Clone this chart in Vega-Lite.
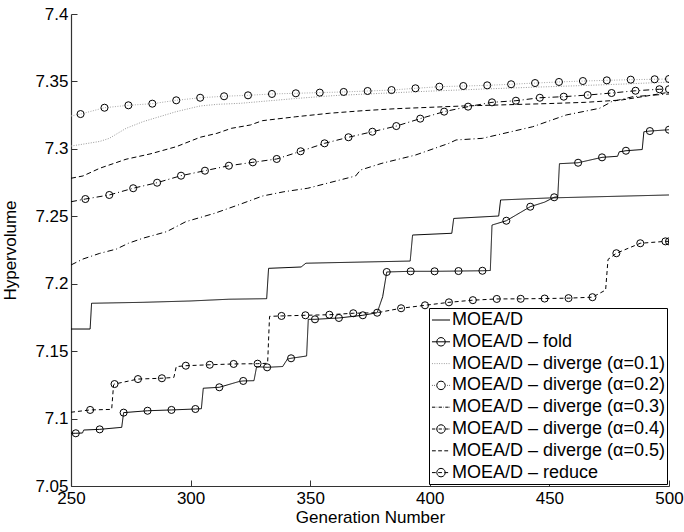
{
"$schema": "https://vega.github.io/schema/vega-lite/v6.json",
"width": 598, "height": 472,
"autosize": {"type": "none"},
"padding": {"left": 71, "top": 14, "right": 15, "bottom": 46},
"background": "white",
"config": {
  "view": {"stroke": null},
  "font": "Liberation Sans",
  "axis": {"labelFont": "Liberation Sans", "titleFont": "Liberation Sans", "labelFontSize": 17, "titleFontSize": 17, "titleFontWeight": "normal", "labelColor": "black", "titleColor": "black", "grid": false, "domainColor": "#333", "tickColor": "#333", "tickSize": -6, "domainWidth": 1.2, "tickWidth": 1, "labelOverlap": false, "labelFlush": false},
  "legend": {"orient": "bottom-right", "offset": 2, "strokeColor": "black", "fillColor": "white", "padding": 2, "symbolSize": 361, "symbolStrokeWidth": 1, "symbolOpacity": 1, "symbolFillColor": "transparent", "labelFont": "Liberation Sans", "labelFontSize": 18, "labelColor": "black", "labelOffset": 1, "rowPadding": 2.8, "labelLimit": 400}
},
"data": {"values": [
{"s":"MOEA/D","g":250,"v":7.1664},{"s":"MOEA/D","g":258,"v":7.1664},{"s":"MOEA/D","g":258.6,"v":7.1855},{"s":"MOEA/D","g":280,"v":7.1862},{"s":"MOEA/D","g":300,"v":7.1872},{"s":"MOEA/D","g":316,"v":7.1885},{"s":"MOEA/D","g":331.8,"v":7.1889},{"s":"MOEA/D","g":332.6,"v":7.2114},{"s":"MOEA/D","g":346.2,"v":7.2124},{"s":"MOEA/D","g":348.2,"v":7.2152},{"s":"MOEA/D","g":391.8,"v":7.2168},{"s":"MOEA/D","g":392.8,"v":7.2361},{"s":"MOEA/D","g":409.2,"v":7.2374},{"s":"MOEA/D","g":410,"v":7.2484},{"s":"MOEA/D","g":428.8,"v":7.2502},{"s":"MOEA/D","g":429.6,"v":7.2621},{"s":"MOEA/D","g":450,"v":7.2636},{"s":"MOEA/D","g":500,"v":7.2658},

{"s":"MOEA/D – fold","g":250,"v":7.0891},{"s":"MOEA/D – fold","g":252,"v":7.0891,"m":1},{"s":"MOEA/D – fold","g":254.8,"v":7.0893},{"s":"MOEA/D – fold","g":255.3,"v":7.0915},{"s":"MOEA/D – fold","g":262,"v":7.092,"m":1},{"s":"MOEA/D – fold","g":271.2,"v":7.0935},{"s":"MOEA/D – fold","g":272,"v":7.1044,"m":1},{"s":"MOEA/D – fold","g":282,"v":7.1058,"m":1},{"s":"MOEA/D – fold","g":292,"v":7.1064,"m":1},{"s":"MOEA/D – fold","g":302,"v":7.1071,"m":1},{"s":"MOEA/D – fold","g":304.5,"v":7.1073},{"s":"MOEA/D – fold","g":305.3,"v":7.1225},{"s":"MOEA/D – fold","g":312,"v":7.1232,"m":1},{"s":"MOEA/D – fold","g":320.5,"v":7.1276},{"s":"MOEA/D – fold","g":322,"v":7.1279,"m":1},{"s":"MOEA/D – fold","g":326.5,"v":7.1281},{"s":"MOEA/D – fold","g":327.6,"v":7.1385},{"s":"MOEA/D – fold","g":332,"v":7.138,"m":1},{"s":"MOEA/D – fold","g":338.5,"v":7.1386},{"s":"MOEA/D – fold","g":340.5,"v":7.1442},{"s":"MOEA/D – fold","g":342,"v":7.1447,"m":1},{"s":"MOEA/D – fold","g":348.5,"v":7.1464},{"s":"MOEA/D – fold","g":349.2,"v":7.1736},{"s":"MOEA/D – fold","g":352,"v":7.1736,"m":1},{"s":"MOEA/D – fold","g":362,"v":7.1746,"m":1},{"s":"MOEA/D – fold","g":372,"v":7.1766,"m":1},{"s":"MOEA/D – fold","g":378,"v":7.1785},{"s":"MOEA/D – fold","g":380.3,"v":7.1904},{"s":"MOEA/D – fold","g":382,"v":7.2087,"m":1},{"s":"MOEA/D – fold","g":392,"v":7.2092,"m":1},{"s":"MOEA/D – fold","g":402,"v":7.2092,"m":1},{"s":"MOEA/D – fold","g":412,"v":7.2094,"m":1},{"s":"MOEA/D – fold","g":422,"v":7.2096,"m":1},{"s":"MOEA/D – fold","g":425.3,"v":7.2098},{"s":"MOEA/D – fold","g":426,"v":7.2435},{"s":"MOEA/D – fold","g":432,"v":7.2467,"m":1},{"s":"MOEA/D – fold","g":442,"v":7.2571,"m":1},{"s":"MOEA/D – fold","g":448,"v":7.2605},{"s":"MOEA/D – fold","g":452,"v":7.2641,"m":1},{"s":"MOEA/D – fold","g":453.5,"v":7.2645},{"s":"MOEA/D – fold","g":454.2,"v":7.289},{"s":"MOEA/D – fold","g":462,"v":7.2897,"m":1},{"s":"MOEA/D – fold","g":472,"v":7.2937,"m":1},{"s":"MOEA/D – fold","g":478.5,"v":7.2945},{"s":"MOEA/D – fold","g":479.2,"v":7.2978},{"s":"MOEA/D – fold","g":482,"v":7.2986,"m":1},{"s":"MOEA/D – fold","g":488.8,"v":7.2995},{"s":"MOEA/D – fold","g":489.5,"v":7.3127},{"s":"MOEA/D – fold","g":492,"v":7.3132,"m":1},{"s":"MOEA/D – fold","g":500,"v":7.3142,"m":1},

{"s":"MOEA/D – diverge (α=0.1)","g":250,"v":7.3021},{"s":"MOEA/D – diverge (α=0.1)","g":254,"v":7.3032},{"s":"MOEA/D – diverge (α=0.1)","g":262,"v":7.3055},{"s":"MOEA/D – diverge (α=0.1)","g":266,"v":7.3078},{"s":"MOEA/D – diverge (α=0.1)","g":273,"v":7.3152},{"s":"MOEA/D – diverge (α=0.1)","g":280,"v":7.3201},{"s":"MOEA/D – diverge (α=0.1)","g":294,"v":7.3276},{"s":"MOEA/D – diverge (α=0.1)","g":304,"v":7.3318},{"s":"MOEA/D – diverge (α=0.1)","g":311,"v":7.333},{"s":"MOEA/D – diverge (α=0.1)","g":321,"v":7.3338},{"s":"MOEA/D – diverge (α=0.1)","g":330,"v":7.3352},{"s":"MOEA/D – diverge (α=0.1)","g":345,"v":7.3375},{"s":"MOEA/D – diverge (α=0.1)","g":360,"v":7.3395},{"s":"MOEA/D – diverge (α=0.1)","g":380,"v":7.3412},{"s":"MOEA/D – diverge (α=0.1)","g":400,"v":7.3428},{"s":"MOEA/D – diverge (α=0.1)","g":420,"v":7.3442},{"s":"MOEA/D – diverge (α=0.1)","g":440,"v":7.3455},{"s":"MOEA/D – diverge (α=0.1)","g":460,"v":7.3467},{"s":"MOEA/D – diverge (α=0.1)","g":480,"v":7.348},{"s":"MOEA/D – diverge (α=0.1)","g":500,"v":7.3495},

{"s":"MOEA/D – diverge (α=0.2)","g":250,"v":7.3244},{"s":"MOEA/D – diverge (α=0.2)","g":254,"v":7.3258,"m":1},{"s":"MOEA/D – diverge (α=0.2)","g":264,"v":7.3305,"m":1},{"s":"MOEA/D – diverge (α=0.2)","g":274,"v":7.3323,"m":1},{"s":"MOEA/D – diverge (α=0.2)","g":284,"v":7.3335,"m":1},{"s":"MOEA/D – diverge (α=0.2)","g":294,"v":7.336,"m":1},{"s":"MOEA/D – diverge (α=0.2)","g":304,"v":7.3379,"m":1},{"s":"MOEA/D – diverge (α=0.2)","g":314,"v":7.339,"m":1},{"s":"MOEA/D – diverge (α=0.2)","g":324,"v":7.3397,"m":1},{"s":"MOEA/D – diverge (α=0.2)","g":334,"v":7.3407,"m":1},{"s":"MOEA/D – diverge (α=0.2)","g":344,"v":7.3412,"m":1},{"s":"MOEA/D – diverge (α=0.2)","g":354,"v":7.3417,"m":1},{"s":"MOEA/D – diverge (α=0.2)","g":364,"v":7.3422,"m":1},{"s":"MOEA/D – diverge (α=0.2)","g":374,"v":7.3429,"m":1},{"s":"MOEA/D – diverge (α=0.2)","g":384,"v":7.3436,"m":1},{"s":"MOEA/D – diverge (α=0.2)","g":394,"v":7.3449,"m":1},{"s":"MOEA/D – diverge (α=0.2)","g":404,"v":7.3461,"m":1},{"s":"MOEA/D – diverge (α=0.2)","g":414,"v":7.3466,"m":1},{"s":"MOEA/D – diverge (α=0.2)","g":424,"v":7.3471,"m":1},{"s":"MOEA/D – diverge (α=0.2)","g":434,"v":7.3479,"m":1},{"s":"MOEA/D – diverge (α=0.2)","g":444,"v":7.3488,"m":1},{"s":"MOEA/D – diverge (α=0.2)","g":454,"v":7.3496,"m":1},{"s":"MOEA/D – diverge (α=0.2)","g":464,"v":7.3503,"m":1},{"s":"MOEA/D – diverge (α=0.2)","g":474,"v":7.3508,"m":1},{"s":"MOEA/D – diverge (α=0.2)","g":484,"v":7.3513,"m":1},{"s":"MOEA/D – diverge (α=0.2)","g":494,"v":7.3516,"m":1},{"s":"MOEA/D – diverge (α=0.2)","g":500,"v":7.3518,"m":1},

{"s":"MOEA/D – diverge (α=0.3)","g":250,"v":7.2139},{"s":"MOEA/D – diverge (α=0.3)","g":255,"v":7.2183},{"s":"MOEA/D – diverge (α=0.3)","g":262,"v":7.2225},{"s":"MOEA/D – diverge (α=0.3)","g":269,"v":7.2257},{"s":"MOEA/D – diverge (α=0.3)","g":274,"v":7.23},{"s":"MOEA/D – diverge (α=0.3)","g":280,"v":7.2337},{"s":"MOEA/D – diverge (α=0.3)","g":290,"v":7.2386},{"s":"MOEA/D – diverge (α=0.3)","g":298,"v":7.246},{"s":"MOEA/D – diverge (α=0.3)","g":310,"v":7.2522},{"s":"MOEA/D – diverge (α=0.3)","g":321,"v":7.2591},{"s":"MOEA/D – diverge (α=0.3)","g":330,"v":7.265},{"s":"MOEA/D – diverge (α=0.3)","g":339,"v":7.2682},{"s":"MOEA/D – diverge (α=0.3)","g":349,"v":7.2708},{"s":"MOEA/D – diverge (α=0.3)","g":358,"v":7.2749},{"s":"MOEA/D – diverge (α=0.3)","g":369,"v":7.2799},{"s":"MOEA/D – diverge (α=0.3)","g":371,"v":7.2843},{"s":"MOEA/D – diverge (α=0.3)","g":380,"v":7.2893},{"s":"MOEA/D – diverge (α=0.3)","g":394,"v":7.2954},{"s":"MOEA/D – diverge (α=0.3)","g":408,"v":7.3041},{"s":"MOEA/D – diverge (α=0.3)","g":411,"v":7.3066},{"s":"MOEA/D – diverge (α=0.3)","g":422,"v":7.3078},{"s":"MOEA/D – diverge (α=0.3)","g":443,"v":7.3164},{"s":"MOEA/D – diverge (α=0.3)","g":457,"v":7.3251},{"s":"MOEA/D – diverge (α=0.3)","g":471,"v":7.3301},{"s":"MOEA/D – diverge (α=0.3)","g":476,"v":7.335},{"s":"MOEA/D – diverge (α=0.3)","g":485,"v":7.3387},{"s":"MOEA/D – diverge (α=0.3)","g":500,"v":7.3407},

{"s":"MOEA/D – diverge (α=0.4)","g":250,"v":7.2608},{"s":"MOEA/D – diverge (α=0.4)","g":256,"v":7.2628,"m":1},{"s":"MOEA/D – diverge (α=0.4)","g":266,"v":7.2658,"m":1},{"s":"MOEA/D – diverge (α=0.4)","g":276,"v":7.2708,"m":1},{"s":"MOEA/D – diverge (α=0.4)","g":286,"v":7.2749,"m":1},{"s":"MOEA/D – diverge (α=0.4)","g":296,"v":7.2801,"m":1},{"s":"MOEA/D – diverge (α=0.4)","g":306,"v":7.2838,"m":1},{"s":"MOEA/D – diverge (α=0.4)","g":316,"v":7.2875,"m":1},{"s":"MOEA/D – diverge (α=0.4)","g":326,"v":7.29,"m":1},{"s":"MOEA/D – diverge (α=0.4)","g":336,"v":7.2925,"m":1},{"s":"MOEA/D – diverge (α=0.4)","g":346,"v":7.2982,"m":1},{"s":"MOEA/D – diverge (α=0.4)","g":356,"v":7.3041,"m":1},{"s":"MOEA/D – diverge (α=0.4)","g":366,"v":7.3086,"m":1},{"s":"MOEA/D – diverge (α=0.4)","g":376,"v":7.3127,"m":1},{"s":"MOEA/D – diverge (α=0.4)","g":386,"v":7.3169,"m":1},{"s":"MOEA/D – diverge (α=0.4)","g":396,"v":7.3224,"m":1},{"s":"MOEA/D – diverge (α=0.4)","g":406,"v":7.3276,"m":1},{"s":"MOEA/D – diverge (α=0.4)","g":416,"v":7.3313,"m":1},{"s":"MOEA/D – diverge (α=0.4)","g":426,"v":7.3345,"m":1},{"s":"MOEA/D – diverge (α=0.4)","g":436,"v":7.3357,"m":1},{"s":"MOEA/D – diverge (α=0.4)","g":446,"v":7.3379,"m":1},{"s":"MOEA/D – diverge (α=0.4)","g":456,"v":7.3387,"m":1},{"s":"MOEA/D – diverge (α=0.4)","g":466,"v":7.3399,"m":1},{"s":"MOEA/D – diverge (α=0.4)","g":476,"v":7.3414,"m":1},{"s":"MOEA/D – diverge (α=0.4)","g":486,"v":7.3431,"m":1},{"s":"MOEA/D – diverge (α=0.4)","g":496,"v":7.3442,"m":1},{"s":"MOEA/D – diverge (α=0.4)","g":500,"v":7.3442,"m":1},

{"s":"MOEA/D – diverge (α=0.5)","g":250,"v":7.2782},{"s":"MOEA/D – diverge (α=0.5)","g":255,"v":7.2799},{"s":"MOEA/D – diverge (α=0.5)","g":262,"v":7.2856},{"s":"MOEA/D – diverge (α=0.5)","g":273,"v":7.2923},{"s":"MOEA/D – diverge (α=0.5)","g":283,"v":7.2962},{"s":"MOEA/D – diverge (α=0.5)","g":294,"v":7.3016},{"s":"MOEA/D – diverge (α=0.5)","g":304,"v":7.3086},{"s":"MOEA/D – diverge (α=0.5)","g":311,"v":7.3115},{"s":"MOEA/D – diverge (α=0.5)","g":317,"v":7.3152},{"s":"MOEA/D – diverge (α=0.5)","g":325,"v":7.3177},{"s":"MOEA/D – diverge (α=0.5)","g":330,"v":7.3209},{"s":"MOEA/D – diverge (α=0.5)","g":344,"v":7.3238},{"s":"MOEA/D – diverge (α=0.5)","g":358,"v":7.3264},{"s":"MOEA/D – diverge (α=0.5)","g":372,"v":7.3283},{"s":"MOEA/D – diverge (α=0.5)","g":386,"v":7.3298},{"s":"MOEA/D – diverge (α=0.5)","g":400,"v":7.3308},{"s":"MOEA/D – diverge (α=0.5)","g":414,"v":7.3318},{"s":"MOEA/D – diverge (α=0.5)","g":430,"v":7.3326},{"s":"MOEA/D – diverge (α=0.5)","g":450,"v":7.3336},{"s":"MOEA/D – diverge (α=0.5)","g":465,"v":7.3345},{"s":"MOEA/D – diverge (α=0.5)","g":480,"v":7.3362},{"s":"MOEA/D – diverge (α=0.5)","g":490,"v":7.339},{"s":"MOEA/D – diverge (α=0.5)","g":500,"v":7.342},

{"s":"MOEA/D – reduce","g":250,"v":7.1047},{"s":"MOEA/D – reduce","g":258,"v":7.1064,"m":1},{"s":"MOEA/D – reduce","g":267,"v":7.1068},{"s":"MOEA/D – reduce","g":267.8,"v":7.125},{"s":"MOEA/D – reduce","g":268.2,"v":7.1256,"m":1},{"s":"MOEA/D – reduce","g":278,"v":7.1293,"m":1},{"s":"MOEA/D – reduce","g":288,"v":7.1299,"m":1},{"s":"MOEA/D – reduce","g":293,"v":7.1305},{"s":"MOEA/D – reduce","g":294,"v":7.1385},{"s":"MOEA/D – reduce","g":298,"v":7.1392,"m":1},{"s":"MOEA/D – reduce","g":308,"v":7.1399,"m":1},{"s":"MOEA/D – reduce","g":318,"v":7.1405,"m":1},{"s":"MOEA/D – reduce","g":328,"v":7.1407,"m":1},{"s":"MOEA/D – reduce","g":332.2,"v":7.141},{"s":"MOEA/D – reduce","g":333,"v":7.1758},{"s":"MOEA/D – reduce","g":338,"v":7.1761,"m":1},{"s":"MOEA/D – reduce","g":348,"v":7.1766,"m":1},{"s":"MOEA/D – reduce","g":358,"v":7.177,"m":1},{"s":"MOEA/D – reduce","g":368,"v":7.1781,"m":1},{"s":"MOEA/D – reduce","g":378,"v":7.1785,"m":1},{"s":"MOEA/D – reduce","g":388,"v":7.1818,"m":1},{"s":"MOEA/D – reduce","g":398,"v":7.184,"m":1},{"s":"MOEA/D – reduce","g":408,"v":7.1862,"m":1},{"s":"MOEA/D – reduce","g":418,"v":7.1878,"m":1},{"s":"MOEA/D – reduce","g":428,"v":7.1887,"m":1},{"s":"MOEA/D – reduce","g":438,"v":7.1888,"m":1},{"s":"MOEA/D – reduce","g":448,"v":7.189,"m":1},{"s":"MOEA/D – reduce","g":458,"v":7.1893,"m":1},{"s":"MOEA/D – reduce","g":468,"v":7.19,"m":1},{"s":"MOEA/D – reduce","g":473.5,"v":7.1953},{"s":"MOEA/D – reduce","g":474.5,"v":7.218},{"s":"MOEA/D – reduce","g":478,"v":7.2226,"m":1},{"s":"MOEA/D – reduce","g":488,"v":7.23,"m":1},{"s":"MOEA/D – reduce","g":498.5,"v":7.2314,"m":1},{"s":"MOEA/D – reduce","g":500,"v":7.2314,"m":1}
]},
"encoding": {
  "x": {"field": "g", "type": "quantitative", "scale": {"domain": [250, 500], "nice": false, "zero": false},
        "axis": {"title": "Generation Number", "values": [250, 300, 350, 400, 450, 500], "format": "d", "labelPadding": 10, "titlePadding": 3}},
  "y": {"field": "v", "type": "quantitative", "scale": {"domain": [7.05, 7.4], "nice": false, "zero": false},
        "axis": {"title": "Hypervolume", "values": [7.05, 7.1, 7.15, 7.2, 7.25, 7.3, 7.35, 7.4], "format": ".2~f", "labelPadding": 9, "titlePadding": 15}}
},
"layer": [
  {"mark": {"type": "line", "strokeWidth": 1, "clip": true},
   "encoding": {
     "color": {"field": "s", "type": "nominal", "legend": null,
       "scale": {"domain": ["MOEA/D","MOEA/D – fold","MOEA/D – diverge (α=0.1)","MOEA/D – diverge (α=0.2)","MOEA/D – diverge (α=0.3)","MOEA/D – diverge (α=0.4)","MOEA/D – diverge (α=0.5)","MOEA/D – reduce","none"],
                 "range": ["#000000","#000000","#9a9a9a","#a8a8a8","#000000","#000000","#000000","#000000","#000000"]}},
     "strokeDash": {"field": "s", "type": "nominal", "legend": null,
       "scale": {"domain": ["MOEA/D","MOEA/D – fold","MOEA/D – diverge (α=0.1)","MOEA/D – diverge (α=0.2)","MOEA/D – diverge (α=0.3)","MOEA/D – diverge (α=0.4)","MOEA/D – diverge (α=0.5)","MOEA/D – reduce","none"],
                 "range": [[1,0],[1,0],[1,1.5],[1,1.5],[6,3,1,3],[6,3,1,3],[5,3],[4,3],[1,0]]}}
   }},
  {"transform": [{"filter": "datum.m == 1"}],
   "mark": {"type": "point", "shape": "circle", "filled": false, "size": 50, "stroke": "black", "strokeWidth": 1, "opacity": 1, "clip": true}},
  {"transform": [{"filter": "datum.g > 1000"}],
   "mark": {"type": "point", "filled": false},
   "encoding": {
     "shape": {"field": "s", "type": "nominal", "title": null,
       "scale": {"domain": ["MOEA/D","MOEA/D – fold","MOEA/D – diverge (α=0.1)","MOEA/D – diverge (α=0.2)","MOEA/D – diverge (α=0.3)","MOEA/D – diverge (α=0.4)","MOEA/D – diverge (α=0.5)","MOEA/D – reduce"],
                 "range": [
                   "M-0.95,0L0.95,0",
                   "M-0.95,0L0.95,0M0.45,0L0.39,0.225L0.225,0.39L0,0.45L-0.225,0.39L-0.39,0.225L-0.45,0L-0.39,-0.225L-0.225,-0.39L0,-0.45L0.225,-0.39L0.39,-0.225Z",
                   "M-0.95,0L-0.85,0M-0.7,0L-0.6,0M-0.45,0L-0.35,0M-0.2,0L-0.1,0M0.05,0L0.15,0M0.3,0L0.4,0M0.55,0L0.65,0M0.8,0L0.9,0",
                   "M-0.95,0L-0.89,0M-0.7,0L-0.64,0M0.64,0L0.7,0M0.89,0L0.95,0M0.45,0L0.39,0.225L0.225,0.39L0,0.45L-0.225,0.39L-0.39,0.225L-0.45,0L-0.39,-0.225L-0.225,-0.39L0,-0.45L0.225,-0.39L0.39,-0.225Z",
                   "M-0.95,0L-0.6,0M-0.45,0L-0.4,0M-0.25,0L0.1,0M0.25,0L0.3,0M0.45,0L0.8,0M0.9,0L0.95,0",
                   "M-0.95,0L-0.6,0M-0.45,0L-0.4,0M-0.25,0L0.1,0M0.25,0L0.3,0M0.45,0L0.8,0M0.9,0L0.95,0M0.45,0L0.39,0.225L0.225,0.39L0,0.45L-0.225,0.39L-0.39,0.225L-0.45,0L-0.39,-0.225L-0.225,-0.39L0,-0.45L0.225,-0.39L0.39,-0.225Z",
                   "M-0.95,0L-0.55,0M-0.3,0L0.1,0M0.35,0L0.75,0",
                   "M-0.95,0L-0.55,0M-0.3,0L0.1,0M0.35,0L0.75,0M0.45,0L0.39,0.225L0.225,0.39L0,0.45L-0.225,0.39L-0.39,0.225L-0.45,0L-0.39,-0.225L-0.225,-0.39L0,-0.45L0.225,-0.39L0.39,-0.225Z"
                 ]}},
     "stroke": {"field": "s", "type": "nominal", "title": null,
       "scale": {"domain": ["MOEA/D","MOEA/D – fold","MOEA/D – diverge (α=0.1)","MOEA/D – diverge (α=0.2)","MOEA/D – diverge (α=0.3)","MOEA/D – diverge (α=0.4)","MOEA/D – diverge (α=0.5)","MOEA/D – reduce"],
                 "range": ["#000000","#000000","#9a9a9a","#000000","#000000","#000000","#000000","#000000"]}}
   }}
]
}
